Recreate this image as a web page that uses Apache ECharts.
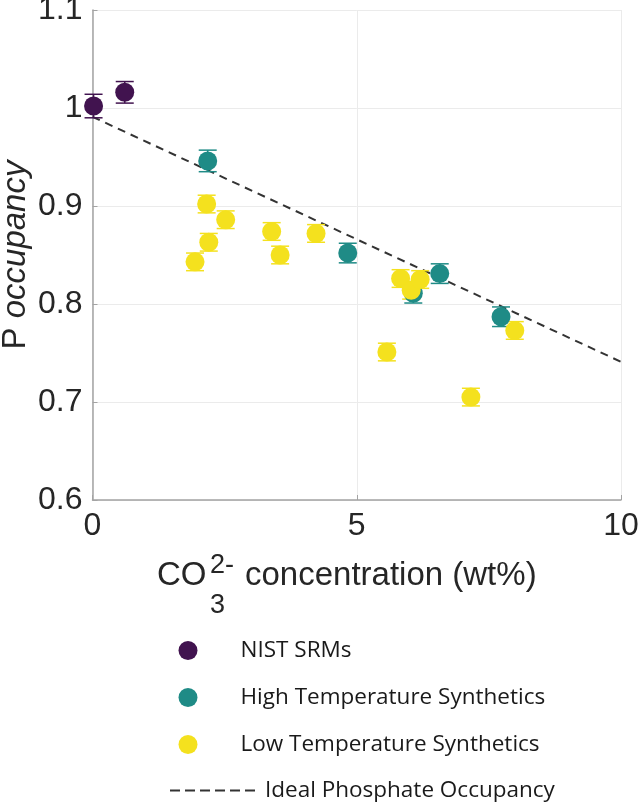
<!DOCTYPE html>
<html>
<head>
<meta charset="utf-8">
<script src="https://cdn.jsdelivr.net/npm/echarts@6/dist/echarts.min.js"></script>
<style>
html,body{margin:0;padding:0;background:#fff;}
#chart{width:640px;height:805px;}
</style>
</head>
<body>
<div id="chart"></div>
<script>
// ---- data ----
var nistX = [0.02, 0.61];
var nistY = [1.002, 1.016];
var nistErr = [0.012, 0.011];

var highX = [2.18, 4.83, 6.07, 6.57, 7.73];
var highY = [0.946, 0.852, 0.811, 0.831, 0.787];
var highErr = [0.011, 0.010, 0.010, 0.010, 0.010];

var lowX = [1.94, 2.16, 2.20, 2.52, 3.39, 3.55, 4.23, 5.57, 5.83, 6.03, 6.20, 7.16, 7.99];
var lowY = [0.843, 0.902, 0.863, 0.886, 0.874, 0.850, 0.872, 0.751, 0.826, 0.814, 0.825, 0.705, 0.773];
var lowErr = [0.009, 0.009, 0.009, 0.009, 0.009, 0.009, 0.009, 0.009, 0.009, 0.009, 0.009, 0.009, 0.009];

var idealX = [0, 10];
var idealY = [0.991, 0.741];

var xTicks = [0, 5, 10];
var yTicks = [0.6, 0.7, 0.8, 0.9, 1.0, 1.1];

var names = ['NIST SRMs', 'High Temperature Synthetics', 'Low Temperature Synthetics', 'Ideal Phosphate Occupancy'];
var colors = ['#41134f', '#1f8b86', '#f4e11e'];

function pts(xs, ys) { return xs.map(function (x, i) { return [x, ys[i]]; }); }
function errPts(xs, ys, es) { return xs.map(function (x, i) { return [x, ys[i], es[i]]; }); }

function errRender(color) {
  return function (params, api) {
    var x = api.value(0), y = api.value(1), e = api.value(2);
    var top = api.coord([x, y + e]);
    var bot = api.coord([x, y - e]);
    var hw = 9;
    var st = { stroke: color, lineWidth: 1.5 };
    return {
      type: 'group',
      children: [
        { type: 'line', shape: { x1: top[0], y1: top[1], x2: bot[0], y2: bot[1] }, style: st },
        { type: 'line', shape: { x1: top[0] - hw, y1: top[1], x2: top[0] + hw, y2: top[1] }, style: st },
        { type: 'line', shape: { x1: bot[0] - hw, y1: bot[1], x2: bot[0] + hw, y2: bot[1] }, style: st }
      ]
    };
  };
}

var chart = echarts.init(document.getElementById('chart'), null, { renderer: 'canvas' });
var tickFont = 'Liberation Sans';
var legFont = 'Open Sans';

var option = {
  backgroundColor: '#ffffff',
  animation: false,
  grid: { left: 92.5, right: 19, top: 10, bottom: 305, containLabel: false, outerBoundsMode: 'none' },
  xAxis: {
    type: 'value', min: xTicks[0], max: xTicks[xTicks.length - 1], interval: 5,
    axisLine: { show: true, lineStyle: { color: '#a3a3a3', width: 1.5 } },
    axisTick: { show: true, inside: true, length: 5, lineStyle: { color: '#a3a3a3' } },
    axisLabel: { fontSize: 32, fontFamily: tickFont, color: '#262626', margin: 10 },
    splitLine: { show: true, lineStyle: { color: '#ebebeb', width: 1 } }
  },
  yAxis: {
    type: 'value', min: yTicks[0], max: yTicks[yTicks.length - 1], interval: 0.1,
    name: 'P {i|occupancy}', nameLocation: 'middle', nameRotate: 90, nameGap: 60,
    nameMoveOverlap: false,
    nameTextStyle: {
      fontSize: 33, fontFamily: tickFont, color: '#262626',
      rich: { i: { fontSize: 33, fontFamily: tickFont, fontStyle: 'italic', color: '#262626' } }
    },
    axisLine: { show: true, lineStyle: { color: '#a3a3a3', width: 1.5 } },
    axisTick: { show: true, inside: true, length: 5, lineStyle: { color: '#a3a3a3' } },
    axisLabel: { fontSize: 32, fontFamily: tickFont, color: '#262626', margin: 10 },
    splitLine: { show: true, lineStyle: { color: '#ebebeb', width: 1 } }
  },
  legend: [
    {
      orient: 'vertical', left: 173.5, top: 634,
      itemWidth: 19, itemHeight: 19, itemGap: 24,
      icon: 'circle',
      data: [names[0], names[1], names[2]],
      formatter: function (n) { return '{g| }{t|' + n + '}'; },
      textStyle: {
        fontSize: 22.5, fontFamily: legFont, color: '#1a1a1a', lineHeight: 19,
        rich: {
          g: { width: 38, fontSize: 22.5, fontFamily: legFont, lineHeight: 19 },
          t: { fontSize: 22.5, fontFamily: legFont, color: '#1a1a1a', lineHeight: 19 }
        }
      },
      selectedMode: false
    },
    {
      orient: 'vertical', left: 164, top: 774,
      itemWidth: 90, itemHeight: 18,
      data: [names[3]],
      itemStyle: { opacity: 0 },
      lineStyle: { type: [10, 5], width: 2, color: '#333333' },
      formatter: function (n) { return '{t|' + n + '}'; },
      textStyle: {
        fontSize: 22.5, fontFamily: legFont, color: '#1a1a1a', lineHeight: 18,
        rich: { t: { fontSize: 22.5, fontFamily: legFont, color: '#1a1a1a', lineHeight: 18 } }
      },
      selectedMode: false
    }
  ],
  graphic: [
    { type: 'text', left: 157, top: 559, style: { text: 'CO', font: '33px "Liberation Sans"', fill: '#262626' } },
    { type: 'text', left: 210, top: 552, style: { text: '2-', font: '27px "Liberation Sans"', fill: '#262626' } },
    { type: 'text', left: 210, top: 592, style: { text: '3', font: '27px "Liberation Sans"', fill: '#262626' } },
    { type: 'text', left: 245, top: 559, style: { text: 'concentration (wt%)', font: '33px "Liberation Sans"', fill: '#262626' } }
  ],
  series: [
    {
      name: names[3], type: 'line', data: pts(idealX, idealY), symbol: 'none',
      lineStyle: { color: '#333333', width: 2, type: [8, 6] }, itemStyle: { color: '#333333' }, z: 1
    },
    { name: 'errNIST', type: 'custom', renderItem: errRender(colors[0]), data: errPts(nistX, nistY, nistErr), z: 2 },
    { name: names[0], type: 'scatter', data: pts(nistX, nistY), symbolSize: 19, itemStyle: { color: colors[0], opacity: 1 }, z: 2 },
    { name: 'errHigh', type: 'custom', renderItem: errRender(colors[1]), data: errPts(highX, highY, highErr), z: 2 },
    { name: names[1], type: 'scatter', data: pts(highX, highY), symbolSize: 19, itemStyle: { color: colors[1], opacity: 1 }, z: 2 },
    { name: 'errLow', type: 'custom', renderItem: errRender(colors[2]), data: errPts(lowX, lowY, lowErr), z: 2 },
    { name: names[2], type: 'scatter', data: pts(lowX, lowY), symbolSize: 19, itemStyle: { color: colors[2], opacity: 1 }, z: 2 }
  ]
};
chart.setOption(option);
</script>
</body>
</html>
